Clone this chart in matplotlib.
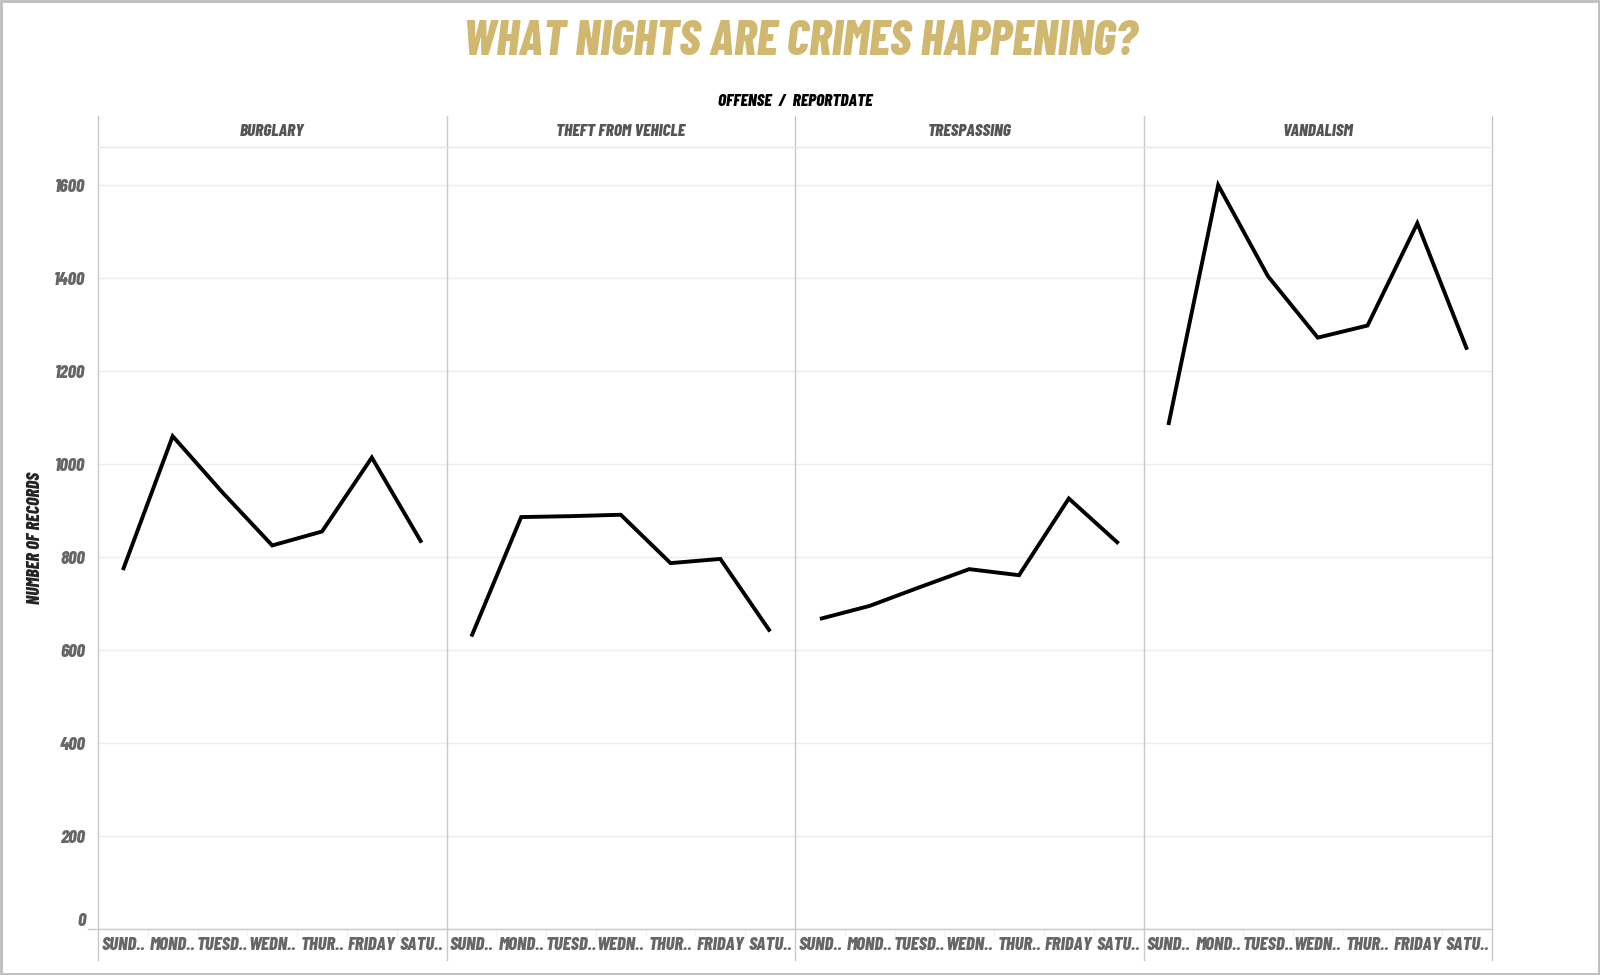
import matplotlib
matplotlib.use("Agg")
import matplotlib.pyplot as plt
from matplotlib.lines import Line2D
from matplotlib.patches import Rectangle

offenses = ["BURGLARY", "THEFT FROM VEHICLE", "TRESPASSING", "VANDALISM"]
day_labels = ["SUND..", "MOND..", "TUESD..", "WEDN..", "THUR..", "FRIDAY", "SATU.."]
burglary = [772, 1060, 939, 825, 855, 1014, 831]
theft_from_vehicle = [629, 886, 888, 891, 787, 796, 640]
trespassing = [667, 695, 735, 774, 761, 926, 829]
vandalism = [1084, 1600, 1404, 1272, 1298, 1518, 1246]
series = [burglary, theft_from_vehicle, trespassing, vandalism]
y_ticks = [0, 200, 400, 600, 800, 1000, 1200, 1400, 1600]

W, H = 1600, 975
fig = plt.figure(figsize=(16, 9.75), dpi=100)

FONT = dict(family=["Barlow Condensed", "DejaVu Sans"], fontweight=800, fontstyle="italic")

left_px, right_px = 98, 1492
top_px, bot_px = 147, 929
head_top = 116
lab_bot = 960
n = len(offenses)
pw = (right_px - left_px) / n

def fx(px):
    return px / W

def fy(py):
    return 1 - py / H

for i, (name, vals) in enumerate(zip(offenses, series)):
    x0 = left_px + i * pw
    ax = fig.add_axes([fx(x0), fy(bot_px), fx(pw), (bot_px - top_px) / H])
    ax.plot(range(7), vals, color="black", lw=2.8, solid_joinstyle="miter", solid_capstyle="butt")
    ax.set_xlim(-0.5, 6.5)
    ax.set_ylim(0, 1682)
    ax.set_yticks(y_ticks)
    ax.grid(axis="y", color="#ececec", lw=1)
    ax.set_axisbelow(True)
    for s in ax.spines.values():
        s.set_visible(False)
    ax.set_xticks(range(7))
    ax.set_xticklabels(day_labels, color="#666666", fontsize=13.5, **FONT)
    ax.tick_params(axis="x", length=0, pad=6)
    if i == 0:
        ax.set_yticklabels([str(v) for v in y_ticks], color="#666666", fontsize=13.5, **FONT)
        ax.tick_params(axis="y", length=0, pad=9)
        for lab in ax.get_yticklabels():
            if lab.get_text() == "0":
                lab.set_va("bottom")
    else:
        ax.tick_params(axis="y", length=0, labelleft=False)
    fig.text(fx(x0 + pw / 2), fy((head_top + top_px) / 2), name, ha="center", va="center",
             color="#555555", fontsize=12.5, **FONT)
    for k in range(1, 7):
        xs = x0 + k * pw / 7
        fig.add_artist(Line2D([fx(xs), fx(xs)], [fy(bot_px), fy(lab_bot - 25)], color="#f0f0f0", lw=1))

fig.text(fx(35), fy(538), "NUMBER OF RECORDS", rotation=90, ha="center", va="center",
         color="#222222", fontsize=13, **FONT)

for i in range(n + 1):
    xs = left_px + i * pw
    fig.add_artist(Line2D([fx(xs), fx(xs)], [fy(head_top), fy(lab_bot)], color="#c8c8c8", lw=1))
fig.add_artist(Line2D([fx(left_px), fx(right_px)], [fy(top_px), fy(top_px)], color="#e6e6e6", lw=1))
fig.add_artist(Line2D([fx(left_px - 10), fx(right_px)], [fy(bot_px), fy(bot_px)], color="#c8c8c8", lw=1))

fig.text(fx((left_px + right_px) / 2), fy(101), "OFFENSE  /  REPORTDATE", ha="center", va="center",
         color="black", fontsize=12.5, **FONT)

fig.text(fx(800), fy(42), "WHAT NIGHTS ARE CRIMES HAPPENING?",
         ha="center", va="center", color="#D1B871", fontsize=35, **FONT)

fig.add_artist(Rectangle((0.0006, 0.001), 0.9988, 0.998, transform=fig.transFigure,
                         fill=False, edgecolor="#bdbdbd", lw=2))

fig.savefig("out.png", dpi=100, facecolor="white")
